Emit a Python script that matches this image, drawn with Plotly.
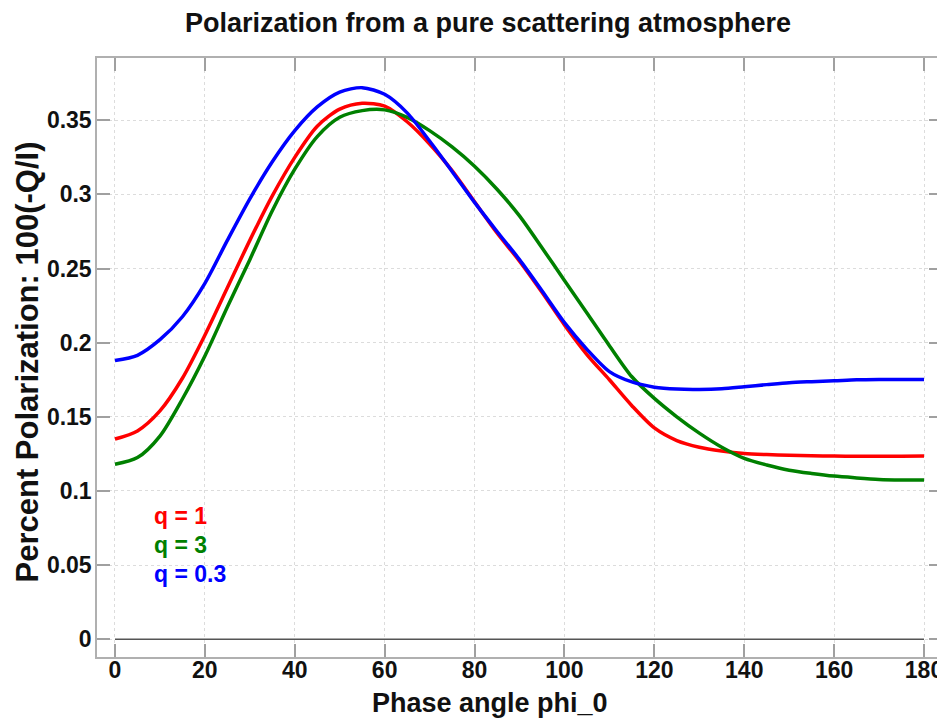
import plotly.graph_objects as go

phase = list(range(0, 181, 5))

pol_q1 = [0.135, 0.1405, 0.154, 0.176, 0.205, 0.237, 0.269, 0.299, 0.325, 0.346,
          0.3575, 0.3615, 0.3595, 0.349, 0.334, 0.316, 0.295, 0.274, 0.255, 0.234,
          0.212, 0.192, 0.175, 0.1575, 0.1425, 0.134, 0.1295, 0.127, 0.1253, 0.1245,
          0.124, 0.1237, 0.1235, 0.1234, 0.1234, 0.1234, 0.1235]

pol_q3 = [0.118, 0.1225, 0.137, 0.162, 0.191, 0.224, 0.256, 0.289, 0.317, 0.339,
          0.352, 0.3565, 0.357, 0.352, 0.343, 0.332, 0.319, 0.3035, 0.2855, 0.264,
          0.242, 0.220, 0.198, 0.177, 0.1624, 0.150, 0.139, 0.1295, 0.122, 0.1175,
          0.114, 0.1118, 0.110, 0.1088, 0.1078, 0.1074, 0.1073]

pol_q03 = [0.188, 0.1915, 0.202, 0.2175, 0.240, 0.269, 0.297, 0.322, 0.343, 0.359,
           0.369, 0.372, 0.3675, 0.355, 0.336, 0.3155, 0.2946, 0.275, 0.256, 0.235,
           0.2135, 0.1955, 0.1805, 0.1735, 0.170, 0.1687, 0.1685, 0.169, 0.1703, 0.1717,
           0.173, 0.1737, 0.1743, 0.175, 0.1752, 0.1752, 0.1752]

series = [("q = 1", pol_q1, "#ff0000"),
          ("q = 3", pol_q3, "#008000"),
          ("q = 0.3", pol_q03, "#0000ff")]

xticks = list(range(0, 181, 20))
yticks = [0, 0.05, 0.1, 0.15, 0.2, 0.25, 0.3, 0.35]
ytick_text = ["0", "0.05", "0.1", "0.15", "0.2", "0.25", "0.3", "0.35"]

FONT = "Liberation Sans"
INK = "#111111"

fig = go.Figure()

# zero reference line
fig.add_trace(go.Scatter(x=[0, 180], y=[0, 0], mode="lines",
                         line=dict(color="#555555", width=1.5),
                         showlegend=False, hoverinfo="skip"))

for name, vals, col in series:
    fig.add_trace(go.Scatter(x=phase, y=vals, mode="lines", name=name,
                             line=dict(color=col, width=3.5, shape="spline", smoothing=0.8),
                             showlegend=False))

label_y = [0.083, 0.0634, 0.0439]
for (name, vals, col), ly in zip(series, label_y):
    fig.add_annotation(x=8.2, y=ly, xref="x", yref="y", text=name,
                       showarrow=False, xanchor="left", yanchor="middle",
                       font=dict(family=FONT, size=23, color=col, weight="bold"))

# axis titles
fig.add_annotation(x=0.4645, y=0, xref="paper", yref="paper", yshift=-46,
                   text="Phase angle phi_0", showarrow=False,
                   xanchor="center", yanchor="middle",
                   font=dict(family=FONT, size=27, color=INK, weight="bold"))
fig.add_annotation(x=0, y=0.4917, xref="paper", yref="paper", xshift=-70,
                   text="Percent Polarization: 100(-Q/I)", showarrow=False,
                   textangle=-90, xanchor="center", yanchor="middle",
                   font=dict(family=FONT, size=31, color=INK, weight="bold"))

axis_common = dict(
    showline=True, linecolor="#b0b0b0", linewidth=1.5, mirror="ticks",
    ticks="inside", ticklen=13, tickwidth=1.5, tickcolor="#a0a0a0",
    showgrid=True, gridcolor="#dcdcdc", griddash="dot", gridwidth=1,
    zeroline=False, automargin=False,
    tickfont=dict(family=FONT, size=23, color=INK, weight="bold"),
)

fig.update_xaxes(range=[-4, 184], tickvals=xticks, ticklabelstandoff=-8,
                 **axis_common)
fig.update_yaxes(range=[-0.012, 0.392], tickvals=yticks, ticktext=ytick_text,
                 ticklabelstandoff=-1, **axis_common)

# the page adds an 8px body margin; the figure is sized and laid out to compensate
fig.update_layout(
    width=937, height=711,
    margin=dict(l=89, r=3, t=50, b=62, autoexpand=False),
    paper_bgcolor="white", plot_bgcolor="white",
    title=dict(text="Polarization from a pure scattering atmosphere",
               xref="container", yref="container",
               x=480 / 937, xanchor="center", y=1 - 15 / 711, yanchor="middle",
               font=dict(family=FONT, size=27, color=INK, weight="bold")),
)

fig.write_html("out.html")
